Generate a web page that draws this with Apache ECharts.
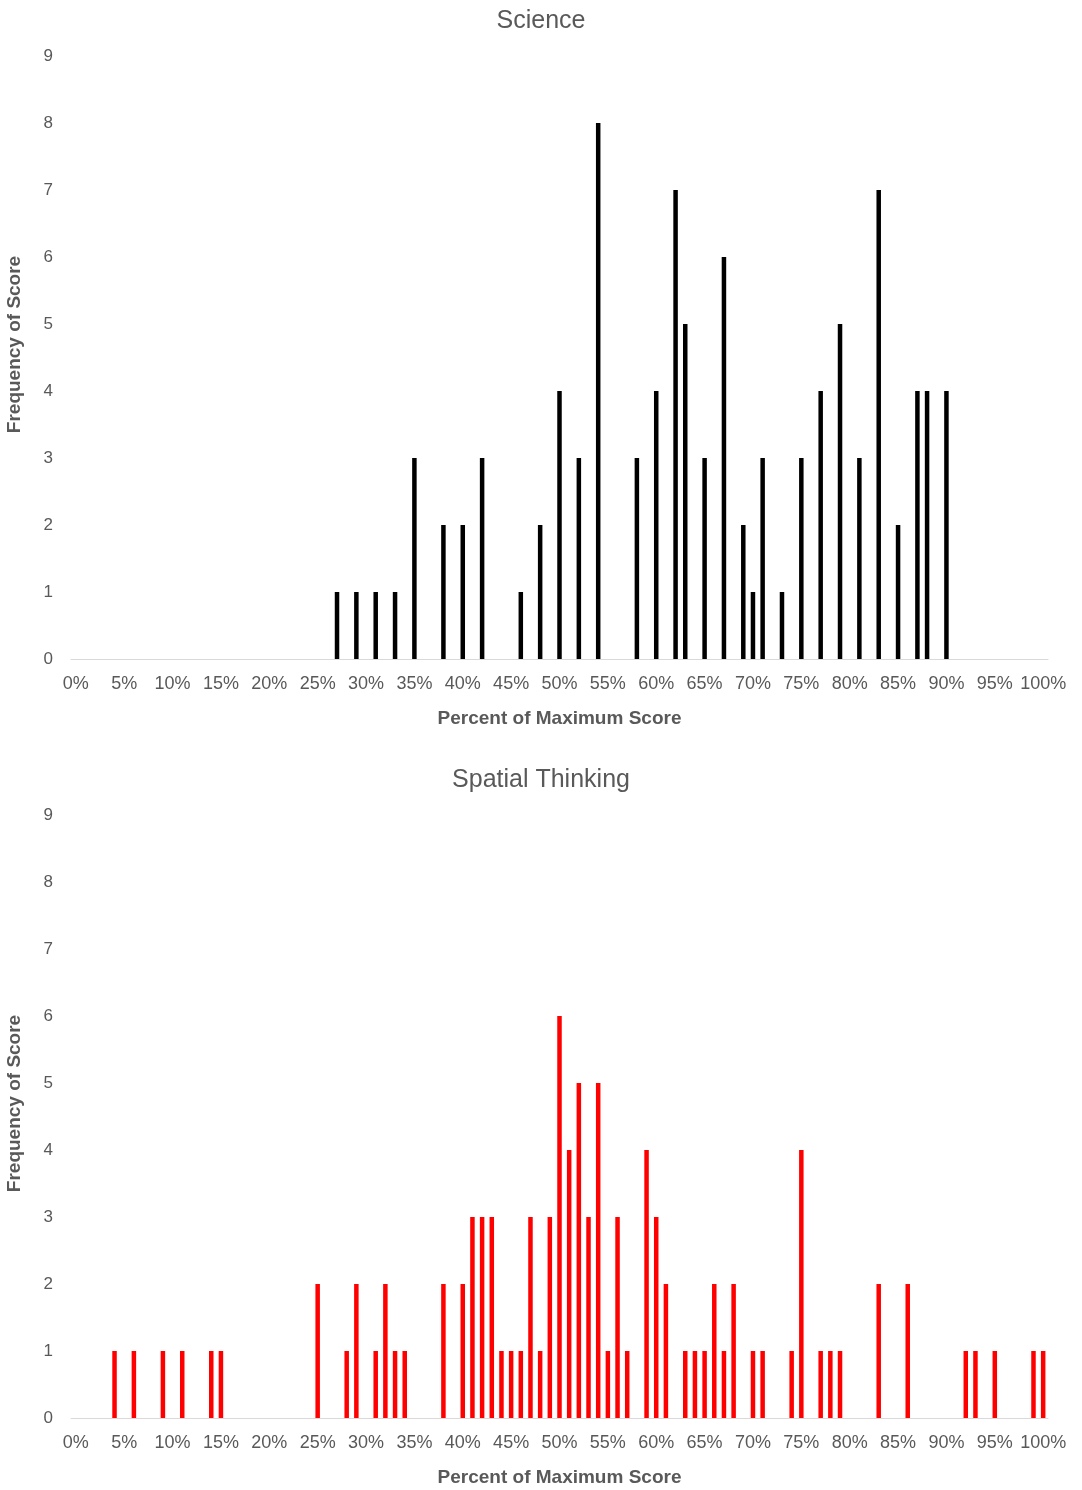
<!DOCTYPE html>
<html>
<head>
<meta charset="utf-8">
<script src="https://cdn.jsdelivr.net/npm/echarts@6/dist/echarts.min.js"></script>
<style>
html,body{margin:0;padding:0;background:#fff;}
#chart{width:1082px;height:1490px;}
</style>
</head>
<body>
<div id="chart"></div>
<script>
// Percent of maximum score (x) and frequency (y)
const scienceX = [27,29,31,33,35,38,40,42,46,48,50,52,54,58,60,62,63,65,67,69,70,71,73,75,77,79,81,83,85,87,88,90];
const scienceY = [1,1,1,1,3,2,2,3,1,2,4,3,8,3,4,7,5,3,6,2,1,3,1,3,4,5,3,7,2,4,4,4];

const spatialX = [4,6,9,11,14,15,25,28,29,31,32,33,34,38,40,41,42,43,44,45,46,47,48,49,50,51,52,53,54,55,56,57,59,60,61,63,64,65,66,67,68,70,71,74,75,77,78,79,83,86,92,93,95,99,100];
const spatialY = [1,1,1,1,1,1,2,1,2,1,2,1,1,2,2,3,3,3,1,1,1,3,1,3,6,4,5,3,5,1,3,1,4,3,2,1,1,1,2,1,2,1,1,1,4,1,1,1,2,2,1,1,1,1,1];

const xTicks = [0,5,10,15,20,25,30,35,40,45,50,55,60,65,70,75,80,85,90,95,100];
const titles = ['Science', 'Spatial Thinking'];
const xName = 'Percent of Maximum Score';
const yName = 'Frequency of Score';

const gray = '#595959';
const font = 'Liberation Sans, Arial, sans-serif';

function pairs(xs, ys){ return xs.map((x,i)=>[x, ys[i]]); }

const grids = [
  {left:71, right:34, top:56, height:603, outerBoundsMode:'none', containLabel:false},
  {left:71, right:34, top:815, height:603, outerBoundsMode:'none', containLabel:false}
];

function xAxis(i){
  return {
    gridIndex:i, type:'value', min:-0.5, max:100.5,
    axisLine:{show:true, lineStyle:{color:'#d9d9d9', width:1}},
    axisTick:{show:false},
    splitLine:{show:false},
    axisLabel:{customValues:xTicks, formatter:v=>v+'%', color:gray, fontSize:18, fontFamily:font, margin:16},
    name:xName, nameLocation:'middle', nameGap:50,
    nameTextStyle:{color:gray, fontSize:19, fontWeight:'bold', fontFamily:font}
  };
}
function yAxis(i){
  return {
    gridIndex:i, type:'value', min:0, max:9, interval:1,
    axisLine:{show:false}, axisTick:{show:false}, splitLine:{show:false},
    axisLabel:{color:gray, fontSize:17, fontFamily:font, margin:18},
    name:yName, nameLocation:'middle', nameGap:47, nameRotate:90,
    nameTextStyle:{color:gray, fontSize:19, fontWeight:'bold', fontFamily:font, padding:[0,0,0,26]}
  };
}

const chart = echarts.init(document.getElementById('chart'));
chart.setOption({
  animation:false,
  backgroundColor:'#fff',
  title:[
    {text:titles[0], left:'center', top:9, padding:0, textStyle:{color:gray, fontSize:25, fontWeight:'normal', fontFamily:font}},
    {text:titles[1], left:'center', top:768, padding:0, textStyle:{color:gray, fontSize:25, fontWeight:'normal', fontFamily:font}}
  ],
  grid:grids,
  xAxis:[xAxis(0), xAxis(1)],
  yAxis:[yAxis(0), yAxis(1)],
  series:[
    {type:'bar', xAxisIndex:0, yAxisIndex:0, data:pairs(scienceX, scienceY), barWidth:4.5, itemStyle:{color:'#000000'}},
    {type:'bar', xAxisIndex:1, yAxisIndex:1, data:pairs(spatialX, spatialY), barWidth:4.5, itemStyle:{color:'#ff0000'}}
  ]
});
</script>
</body>
</html>
